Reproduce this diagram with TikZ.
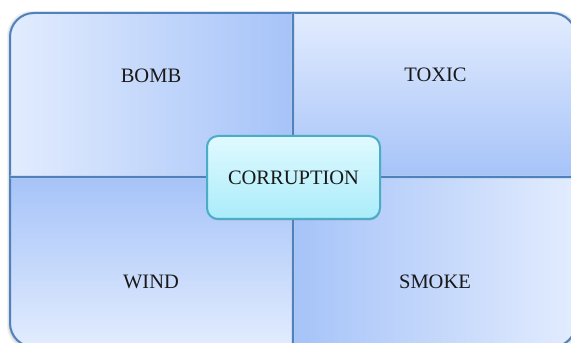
\documentclass[tikz,border=0pt]{standalone}
\usepackage{fontspec}
\setmainfont{Liberation Serif}
\usetikzlibrary{shadows}
\definecolor{qlight}{RGB}{226,236,254}
\definecolor{qdark}{RGB}{166,195,248}
\definecolor{qborder}{RGB}{79,129,189}
\definecolor{clight}{RGB}{224,250,255}
\definecolor{cdark}{RGB}{170,236,250}
\definecolor{cborder}{RGB}{75,172,198}
\definecolor{txt}{RGB}{25,25,25}
\tikzset{
  label text/.style={font=\fontsize{20.5}{24}\selectfont, text=txt, inner sep=0pt},
  quadline/.style={draw=qborder, line width=2pt},
  centerbox/.style={draw=cborder, line width=2pt, rounded corners=11pt,
    top color=clight, bottom color=cdark, minimum width=173pt, minimum height=83pt,
    font=\fontsize{20.5}{24}\selectfont, text=txt,
    drop shadow={shadow xshift=0.5pt, shadow yshift=-1.5pt, opacity=0.3, fill=black!60}}
}
\begin{document}
\begin{tikzpicture}[x=1pt,y=1pt]
\useasboundingbox (0,0) rectangle (571,343);
% soft outer shadow
\foreach \o/\a in {3/0.05,2/0.07,1/0.09}{
  \fill[black, opacity=\a, rounded corners=24pt] (10-\o,-4-\o) rectangle (576+\o,330+\o-1);
}
% quadrants
\path[left color=qlight, right color=qdark]
  (10,166) -- (10,306) arc[start angle=180,end angle=90,radius=24] -- (293,330) -- (293,166) -- cycle;
\path[top color=qlight, bottom color=qdark]
  (293,330) -- (552,330) arc[start angle=90,end angle=0,radius=24] -- (576,166) -- (293,166) -- cycle;
\path[left color=qdark, right color=qlight]
  (293,166) -- (576,166) -- (576,20) arc[start angle=0,end angle=-90,radius=24] -- (293,-4) -- cycle;
\path[top color=qdark, bottom color=qlight]
  (10,166) -- (293,166) -- (293,-4) -- (34,-4) arc[start angle=270,end angle=180,radius=24] -- cycle;
% borders and dividers
\draw[quadline, rounded corners=24pt] (10,-4) rectangle (576,330);
\draw[draw=qborder!40, line width=4pt, opacity=0.5] (293,-4) -- (293,330);
\draw[draw=qborder!40, line width=4pt, opacity=0.5] (10,166) -- (576,166);
\draw[quadline] (293,-4) -- (293,330);
\draw[quadline] (10,166) -- (576,166);
% labels
\node[label text] (bomb) at (151,267.5) {BOMB};
\node[label text] (toxic) at (435.5,268) {TOXIC};
\node[label text] (wind) at (151,61.5) {WIND};
\node[label text] (smoke) at (435,61.5) {SMOKE};
% center
\node[centerbox] (corruption) at (293.5,165.5) {CORRUPTION};
\end{tikzpicture}
\end{document}
